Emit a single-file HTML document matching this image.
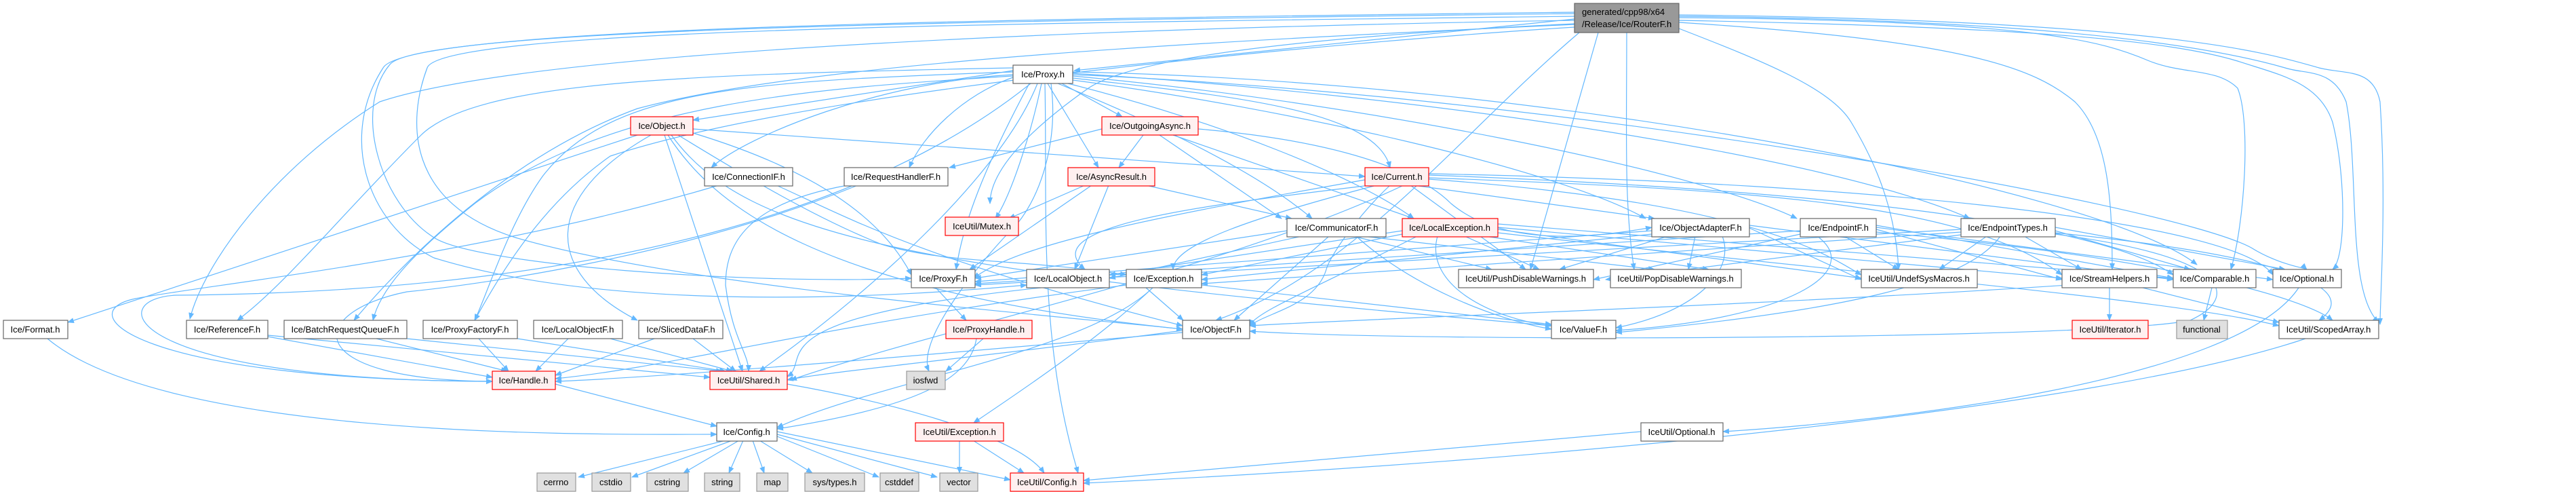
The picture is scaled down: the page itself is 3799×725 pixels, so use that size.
<!DOCTYPE html>
<html><head><meta charset="utf-8"><style>
html,body{margin:0;padding:0;background:#fff;}
svg{display:block;}
text{font-family:"Liberation Sans",sans-serif;font-size:13px;fill:#000;}
.e{fill:none;stroke:#63b8ff;stroke-width:1.2;marker-end:url(#a);}
.n{fill:#fff;stroke:#666;stroke-width:1.2;}
.r{fill:#fff0f0;stroke:#f00;stroke-width:1.2;}
.g{fill:#e0e0e0;stroke:#999;stroke-width:1.2;}
</style></head><body>
<svg width="3799" height="725" viewBox="0 0 3799 725" xmlns="http://www.w3.org/2000/svg">
<defs><marker id="a" markerWidth="10" markerHeight="8" refX="9" refY="4" orient="auto" markerUnits="userSpaceOnUse"><path d="M0,0 L10,4 L0,8 z" fill="#63b8ff"/></marker></defs>
<g>
<path class="e" d="M2322,28 L1584,104"/>
<path class="e" d="M2322,20 C1500,30 620,40 575,95 C520,160 560,300 640,350 C700,390 1100,420 1344,410"/>
<path class="e" d="M2322,18 C1500,28 600,38 565,100 C500,200 540,330 640,380 C900,460 1300,440 1514,420"/>
<path class="e" d="M2322,24 C1500,34 650,42 630,100 C600,180 600,300 760,350 C1000,420 1500,460 1744,485"/>
<path class="e" d="M2322,30 C1700,40 800,70 560,150 C400,250 300,390 280,470"/>
<path class="e" d="M2322,36 C1800,60 1200,90 940,160 C750,230 600,380 522,472"/>
<path class="e" d="M2322,40 C2000,60 1200,130 900,230 C800,300 740,400 700,472"/>
<path class="e" d="M2476,30 C3000,40 3200,60 3300,90 C3360,110 3420,120 3440,180 C3460,260 3460,380 3440,397"/>
<path class="e" d="M2476,26 C3000,30 3100,60 3170,90 C3220,110 3270,100 3300,130 C3320,180 3310,330 3290,397"/>
<path class="e" d="M2476,33 C2900,60 3000,100 3060,150 C3110,200 3115,300 3115,397"/>
<path class="e" d="M2476,24 C3100,30 3300,80 3370,100 C3400,110 3440,100 3460,150 C3480,250 3460,430 3508,475"/>
<path class="e" d="M2476,22 C3200,30 3350,80 3420,100 C3460,110 3500,100 3510,150 C3520,300 3510,440 3510,478"/>
<path class="e" d="M2476,42 C2600,90 2700,130 2730,180 C2760,230 2795,300 2800,397"/>
<path class="e" d="M2357,48 L2257,397"/>
<path class="e" d="M2399,48 C2399,200 2395,300 2410,397"/>
<path class="e" d="M2329,48 C2150,200 2000,400 1793,472"/>
<path class="e" d="M2322,35 C1800,60 1650,100 1605,130 C1520,190 1460,250 1460,300"/>
<path class="e" d="M1494,104 L1022,177"/>
<path class="e" d="M1494,110 C1300,120 1100,200 1049,247"/>
<path class="e" d="M1494,114 C1420,140 1360,200 1341,247"/>
<path class="e" d="M1566,123 L1655,172"/>
<path class="e" d="M1545,123 L1620,247"/>
<path class="e" d="M1536,123 C1520,200 1490,290 1468,322"/>
<path class="e" d="M1582,115 C1800,140 2030,160 2050,247"/>
<path class="e" d="M1560,123 C1700,180 1850,250 1935,322"/>
<path class="e" d="M1575,123 C1800,180 2000,260 2085,322"/>
<path class="e" d="M1582,118 C1900,160 2300,250 2427,322"/>
<path class="e" d="M1582,112 C2000,150 2500,250 2650,322"/>
<path class="e" d="M1582,108 C2100,140 2700,230 2905,322"/>
<path class="e" d="M1494,112 C1200,130 900,150 700,300 C600,380 560,430 550,472"/>
<path class="e" d="M1494,106 C1100,120 900,130 800,260 C750,330 720,430 700,472"/>
<path class="e" d="M1494,100 C1000,110 700,120 620,200 C500,320 420,420 350,472"/>
<path class="e" d="M1518,123 C1450,250 1420,330 1410,397"/>
<path class="e" d="M1530,123 C1480,250 1300,420 1120,547"/>
<path class="e" d="M1520,123 C1300,300 900,430 260,435 C150,440 180,560 726,562"/>
<path class="e" d="M1541,123 C1545,300 1530,500 1590,697"/>
<path class="e" d="M1550,123 C1560,200 1540,280 1500,330 C1450,380 1350,500 1370,547"/>
<path class="e" d="M1582,110 C2300,140 3200,300 3320,365 C3360,390 3400,395 3402,397"/>
<path class="e" d="M1582,106 C2300,120 3100,280 3240,390"/>
<path class="e" d="M940,199 L100,475"/>
<path class="e" d="M980,199 L1095,547"/>
<path class="e" d="M985,199 C1050,300 1200,430 1744,485"/>
<path class="e" d="M1022,190 L2013,260"/>
<path class="e" d="M1022,196 C1200,250 1300,320 1344,405"/>
<path class="e" d="M960,199 C800,290 800,400 940,472"/>
<path class="e" d="M990,199 C1100,350 1350,400 2288,480"/>
<path class="e" d="M1000,199 C1100,260 1200,320 1300,360 C1400,390 1500,380 1661,405"/>
<path class="e" d="M1060,273 C700,380 300,420 200,440 C100,460 200,560 726,562"/>
<path class="e" d="M1145,273 C1250,320 1350,380 1744,480"/>
<path class="e" d="M1265,273 C1000,380 700,420 600,430 C450,460 440,560 726,562"/>
<path class="e" d="M1250,273 C1100,300 1070,360 1070,420 C1080,500 1104,520 1104,547"/>
<path class="e" d="M1625,190 L1400,247"/>
<path class="e" d="M1686,199 L1650,247"/>
<path class="e" d="M1710,199 L1890,322"/>
<path class="e" d="M1730,199 L2085,322"/>
<path class="e" d="M1767,190 C2000,210 2100,260 2140,300 C2200,350 2300,360 2436,335"/>
<path class="e" d="M1600,273 L1488,322"/>
<path class="e" d="M1610,273 L1430,397"/>
<path class="e" d="M1635,273 L1585,397"/>
<path class="e" d="M1690,273 L1905,322"/>
<path class="e" d="M2013,265 C1700,320 1500,360 1436,410"/>
<path class="e" d="M2020,273 C1800,300 1520,330 1600,397"/>
<path class="e" d="M2030,273 C1850,320 1730,360 1730,397"/>
<path class="e" d="M2050,273 C2000,320 1960,380 1956,397 C1940,450 1870,460 1843,480"/>
<path class="e" d="M2080,273 L2250,397"/>
<path class="e" d="M2085,273 L2440,322"/>
<path class="e" d="M2107,262 C2600,280 2900,300 3041,405"/>
<path class="e" d="M2107,258 C2700,280 3100,330 3205,405"/>
<path class="e" d="M2107,264 C2600,300 2700,380 2745,405"/>
<path class="e" d="M2107,256 C2800,270 3300,330 3352,405"/>
<path class="e" d="M2070,273 C1800,400 1400,480 1166,560"/>
<path class="e" d="M1898,340 L1438,410"/>
<path class="e" d="M1920,348 L1636,410"/>
<path class="e" d="M1960,348 L1820,472"/>
<path class="e" d="M2000,348 C2080,420 2200,470 2288,485"/>
<path class="e" d="M1995,348 L2200,397"/>
<path class="e" d="M2010,348 L2440,397"/>
<path class="e" d="M2068,340 L1636,405"/>
<path class="e" d="M2068,345 L1772,405"/>
<path class="e" d="M2090,348 C1950,420 1850,460 1843,480"/>
<path class="e" d="M2120,348 C2100,420 2200,470 2288,480"/>
<path class="e" d="M2160,348 L2270,397"/>
<path class="e" d="M2190,348 L2520,397"/>
<path class="e" d="M2209,335 L3041,410"/>
<path class="e" d="M2209,330 L3205,410"/>
<path class="e" d="M2209,338 L2745,410"/>
<path class="e" d="M2209,343 C2700,400 3200,440 3361,480"/>
<path class="e" d="M2436,340 L1438,415"/>
<path class="e" d="M2436,345 L1772,412"/>
<path class="e" d="M2460,348 L2300,397"/>
<path class="e" d="M2500,348 L2490,397"/>
<path class="e" d="M2540,348 C2560,400 2500,460 2383,483"/>
<path class="e" d="M2580,336 L2745,412"/>
<path class="e" d="M2580,332 L3205,412"/>
<path class="e" d="M2655,340 L1438,418"/>
<path class="e" d="M2655,345 L2350,412"/>
<path class="e" d="M2680,348 C2750,400 2640,470 2383,487"/>
<path class="e" d="M2720,348 L2800,397"/>
<path class="e" d="M2767,335 L3352,412"/>
<path class="e" d="M2767,338 L3041,412"/>
<path class="e" d="M2767,332 L3205,410"/>
<path class="e" d="M2767,342 C3200,380 3400,440 3440,472"/>
<path class="e" d="M2892,338 L1438,420"/>
<path class="e" d="M2892,342 L1772,418"/>
<path class="e" d="M2892,346 L2368,412"/>
<path class="e" d="M2930,348 L2860,397"/>
<path class="e" d="M2950,348 C2900,420 2700,460 2383,490"/>
<path class="e" d="M2985,348 L3070,397"/>
<path class="e" d="M3031,340 L3230,397"/>
<path class="e" d="M3031,335 L3370,397"/>
<path class="e" d="M3031,345 C3300,380 3300,440 3230,472 C3100,500 2100,505 1843,488"/>
<path class="e" d="M3031,343 C3400,380 3480,430 3420,472"/>
<path class="e" d="M1380,424 L1425,472"/>
<path class="e" d="M1535,424 C1100,470 1200,530 1161,555"/>
<path class="e" d="M1690,424 L1745,472"/>
<path class="e" d="M1661,420 C1200,480 1000,540 819,558"/>
<path class="e" d="M1700,424 C1600,520 1300,560 1146,630"/>
<path class="e" d="M1700,424 C1620,500 1500,580 1436,623"/>
<path class="e" d="M1772,420 L2288,478"/>
<path class="e" d="M3111,424 L3111,472"/>
<path class="e" d="M3050,420 C2600,450 2000,470 1843,480"/>
<path class="e" d="M3160,424 L3361,475"/>
<path class="e" d="M3262,424 L3250,472"/>
<path class="e" d="M3390,424 C3300,560 2800,620 2541,636"/>
<path class="e" d="M3400,499 C3100,600 2300,680 1598,712"/>
<path class="e" d="M2420,636 L1598,708"/>
<path class="e" d="M1744,487 C1500,520 1200,550 1161,560"/>
<path class="e" d="M1744,490 C1400,520 1000,555 819,562"/>
<path class="e" d="M1440,499 C1430,560 1350,600 1146,632"/>
<path class="e" d="M1450,499 L1395,547"/>
<path class="e" d="M70,499 C250,650 900,640 1057,640"/>
<path class="e" d="M395,496 L726,556"/>
<path class="e" d="M395,494 L1047,556"/>
<path class="e" d="M555,499 L748,547"/>
<path class="e" d="M600,499 L1065,547"/>
<path class="e" d="M706,499 L750,547"/>
<path class="e" d="M763,499 L1070,547"/>
<path class="e" d="M838,499 L790,547"/>
<path class="e" d="M900,499 L1080,547"/>
<path class="e" d="M965,499 L819,553"/>
<path class="e" d="M1022,499 L1085,547"/>
<path class="e" d="M819,566 L1057,628"/>
<path class="e" d="M1161,566 C1300,590 1500,640 1540,697"/>
<path class="e" d="M1415,649 L1415,697"/>
<path class="e" d="M1435,649 L1510,697"/>
<path class="e" d="M1070,649 L853,703"/>
<path class="e" d="M1080,649 L932,703"/>
<path class="e" d="M1090,649 L1008,697"/>
<path class="e" d="M1096,649 L1075,697"/>
<path class="e" d="M1110,649 L1127,697"/>
<path class="e" d="M1120,649 L1198,697"/>
<path class="e" d="M1146,643 L1296,703"/>
<path class="e" d="M1146,640 L1382,703"/>
<path class="e" d="M1146,636 L1490,707"/>
</g>
<g>
<rect class="g" x="2322" y="5" width="154" height="43" style="fill:#999;stroke:#666"/>
<text x="2333" y="22">generated/cpp98/x64</text><text x="2333" y="40">/Release/Ice/RouterF.h</text>
<rect class="n" x="1494" y="96" width="88" height="27"/><text x="1538" y="114" text-anchor="middle">Ice/Proxy.h</text>
<rect class="r" x="930" y="172" width="92" height="27"/><text x="976" y="190" text-anchor="middle">Ice/Object.h</text>
<rect class="r" x="1625" y="172" width="142" height="27"/><text x="1696" y="190" text-anchor="middle">Ice/OutgoingAsync.h</text>
<rect class="n" x="1039" y="247" width="130" height="27"/><text x="1104" y="265" text-anchor="middle">Ice/ConnectionIF.h</text>
<rect class="n" x="1245" y="247" width="153" height="27"/><text x="1321" y="265" text-anchor="middle">Ice/RequestHandlerF.h</text>
<rect class="r" x="1575" y="247" width="128" height="27"/><text x="1639" y="265" text-anchor="middle">Ice/AsyncResult.h</text>
<rect class="r" x="2013" y="247" width="94" height="27"/><text x="2060" y="265" text-anchor="middle">Ice/Current.h</text>
<rect class="r" x="1394" y="320" width="108" height="27"/><text x="1448" y="338" text-anchor="middle">IceUtil/Mutex.h</text>
<rect class="n" x="1898" y="322" width="146" height="27"/><text x="1971" y="340" text-anchor="middle">Ice/CommunicatorF.h</text>
<rect class="r" x="2068" y="322" width="141" height="27"/><text x="2138" y="340" text-anchor="middle">Ice/LocalException.h</text>
<rect class="n" x="2436" y="322" width="144" height="27"/><text x="2508" y="340" text-anchor="middle">Ice/ObjectAdapterF.h</text>
<rect class="n" x="2655" y="322" width="112" height="27"/><text x="2711" y="340" text-anchor="middle">Ice/EndpointF.h</text>
<rect class="n" x="2892" y="322" width="139" height="27"/><text x="2961" y="340" text-anchor="middle">Ice/EndpointTypes.h</text>
<rect class="n" x="1344" y="397" width="94" height="27"/><text x="1391" y="415" text-anchor="middle">Ice/ProxyF.h</text>
<rect class="n" x="1514" y="397" width="122" height="27"/><text x="1575" y="415" text-anchor="middle">Ice/LocalObject.h</text>
<rect class="n" x="1661" y="397" width="111" height="27"/><text x="1716" y="415" text-anchor="middle">Ice/Exception.h</text>
<rect class="n" x="2151" y="397" width="199" height="27"/><text x="2250" y="415" text-anchor="middle">IceUtil/PushDisableWarnings.h</text>
<rect class="n" x="2375" y="397" width="193" height="27"/><text x="2471" y="415" text-anchor="middle">IceUtil/PopDisableWarnings.h</text>
<rect class="n" x="2745" y="397" width="171" height="27"/><text x="2830" y="415" text-anchor="middle">IceUtil/UndefSysMacros.h</text>
<rect class="n" x="3041" y="397" width="140" height="27"/><text x="3111" y="415" text-anchor="middle">Ice/StreamHelpers.h</text>
<rect class="n" x="3205" y="397" width="122" height="27"/><text x="3266" y="415" text-anchor="middle">Ice/Comparable.h</text>
<rect class="n" x="3352" y="397" width="101" height="27"/><text x="3402" y="415" text-anchor="middle">Ice/Optional.h</text>
<rect class="n" x="5" y="472" width="95" height="27"/><text x="52" y="490" text-anchor="middle">Ice/Format.h</text>
<rect class="n" x="275" y="472" width="120" height="27"/><text x="335" y="490" text-anchor="middle">Ice/ReferenceF.h</text>
<rect class="n" x="419" y="472" width="181" height="27"/><text x="509" y="490" text-anchor="middle">Ice/BatchRequestQueueF.h</text>
<rect class="n" x="624" y="472" width="139" height="27"/><text x="693" y="490" text-anchor="middle">Ice/ProxyFactoryF.h</text>
<rect class="n" x="787" y="472" width="131" height="27"/><text x="852" y="490" text-anchor="middle">Ice/LocalObjectF.h</text>
<rect class="n" x="942" y="472" width="124" height="27"/><text x="1004" y="490" text-anchor="middle">Ice/SlicedDataF.h</text>
<rect class="r" x="1395" y="472" width="127" height="27"/><text x="1458" y="490" text-anchor="middle">Ice/ProxyHandle.h</text>
<rect class="n" x="1744" y="472" width="99" height="27"/><text x="1793" y="490" text-anchor="middle">Ice/ObjectF.h</text>
<rect class="n" x="2288" y="472" width="95" height="27"/><text x="2335" y="490" text-anchor="middle">Ice/ValueF.h</text>
<rect class="r" x="3056" y="472" width="112" height="27"/><text x="3112" y="490" text-anchor="middle">IceUtil/Iterator.h</text>
<rect class="g" x="3210" y="472" width="75" height="27"/><text x="3247" y="490" text-anchor="middle">functional</text>
<rect class="n" x="3361" y="472" width="147" height="27"/><text x="3434" y="490" text-anchor="middle">IceUtil/ScopedArray.h</text>
<rect class="r" x="726" y="547" width="93" height="27"/><text x="772" y="565" text-anchor="middle">Ice/Handle.h</text>
<rect class="r" x="1047" y="547" width="114" height="27"/><text x="1104" y="565" text-anchor="middle">IceUtil/Shared.h</text>
<rect class="g" x="1337" y="547" width="57" height="27"/><text x="1365" y="565" text-anchor="middle">iosfwd</text>
<rect class="n" x="1057" y="623" width="89" height="27"/><text x="1101" y="641" text-anchor="middle">Ice/Config.h</text>
<rect class="r" x="1350" y="623" width="130" height="27"/><text x="1415" y="641" text-anchor="middle">IceUtil/Exception.h</text>
<rect class="n" x="2420" y="623" width="121" height="27"/><text x="2480" y="641" text-anchor="middle">IceUtil/Optional.h</text>
<rect class="g" x="792" y="697" width="57" height="27"/><text x="820" y="715" text-anchor="middle">cerrno</text>
<rect class="g" x="873" y="697" width="57" height="27"/><text x="901" y="715" text-anchor="middle">cstdio</text>
<rect class="g" x="954" y="697" width="61" height="27"/><text x="984" y="715" text-anchor="middle">cstring</text>
<rect class="g" x="1039" y="697" width="52" height="27"/><text x="1065" y="715" text-anchor="middle">string</text>
<rect class="g" x="1116" y="697" width="46" height="27"/><text x="1139" y="715" text-anchor="middle">map</text>
<rect class="g" x="1187" y="697" width="88" height="27"/><text x="1231" y="715" text-anchor="middle">sys/types.h</text>
<rect class="g" x="1298" y="697" width="57" height="27"/><text x="1326" y="715" text-anchor="middle">cstddef</text>
<rect class="g" x="1386" y="697" width="56" height="27"/><text x="1414" y="715" text-anchor="middle">vector</text>
<rect class="r" x="1490" y="697" width="108" height="27"/><text x="1544" y="715" text-anchor="middle">IceUtil/Config.h</text>
</g>
</svg>
</body></html>
